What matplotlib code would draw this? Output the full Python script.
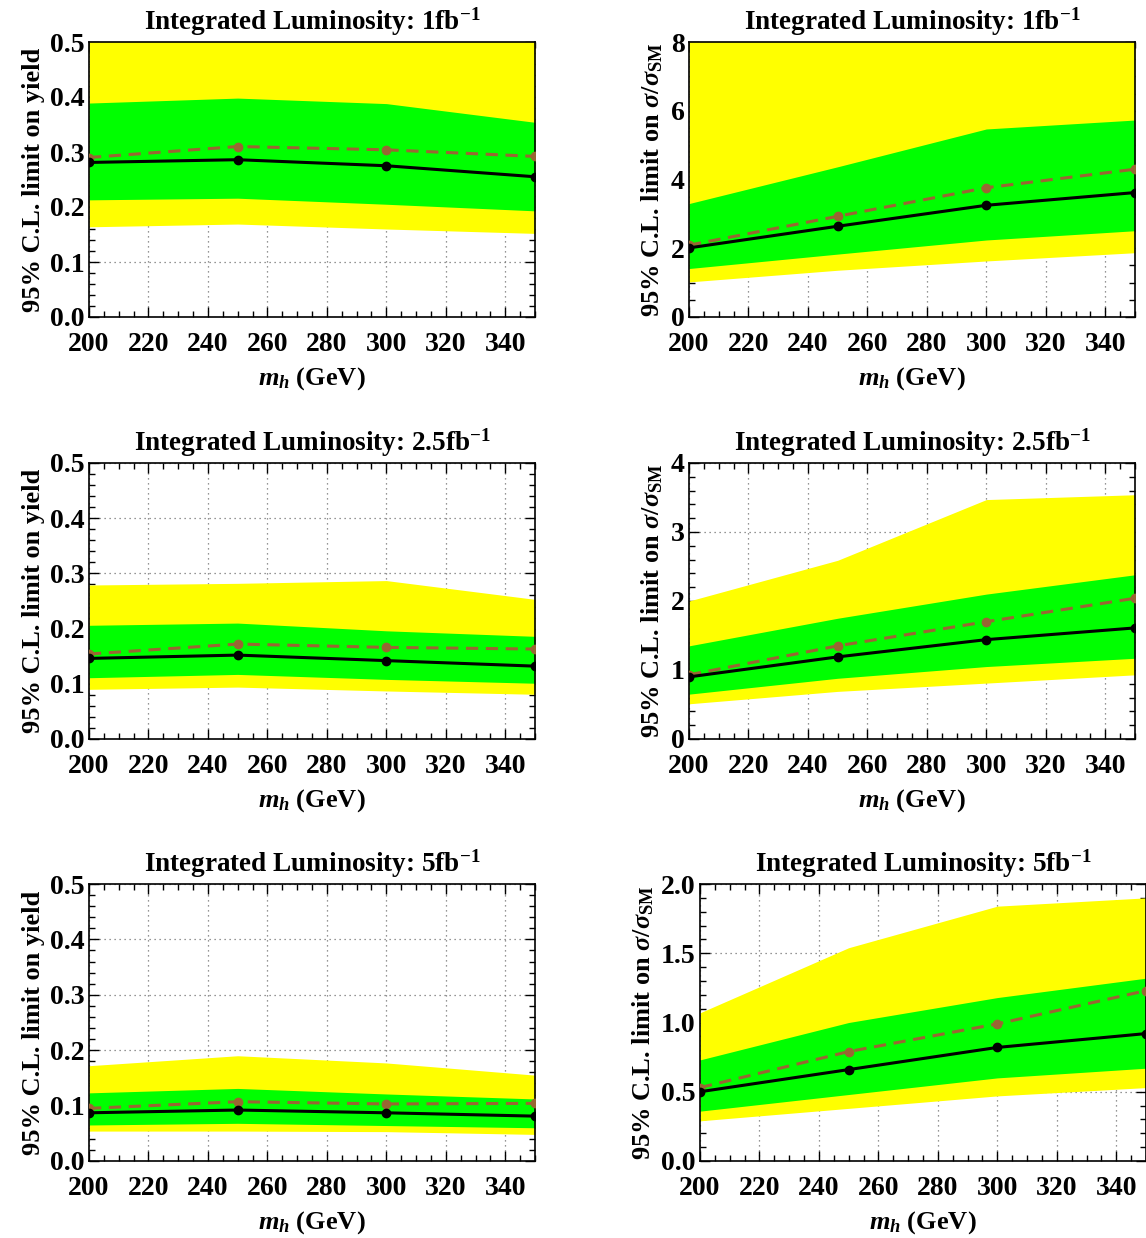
import matplotlib
matplotlib.use("Agg")
import matplotlib.pyplot as plt
from matplotlib.ticker import MultipleLocator, FormatStrFormatter

plt.rcParams['font.family'] = ['Liberation Serif', 'DejaVu Serif']
plt.rcParams['font.weight'] = 'bold'
plt.rcParams['axes.labelweight'] = 'bold'
plt.rcParams['axes.titleweight'] = 'bold'
plt.rcParams['mathtext.fontset'] = 'custom'
plt.rcParams['mathtext.rm'] = 'Liberation Serif:bold'
plt.rcParams['mathtext.bf'] = 'Liberation Serif:bold'
plt.rcParams['mathtext.it'] = 'Liberation Serif:bold:italic'

# ---------------- data ----------------
mh = [200, 250, 300, 350]
lumi_labels = ["1", "2.5", "5"]

# yield limits (left column)
yield_obs = [[0.281, 0.286, 0.275, 0.255],
             [0.146, 0.152, 0.142, 0.132],
             [0.087, 0.092, 0.087, 0.081]]
yield_exp = [[0.290, 0.310, 0.304, 0.292],
             [0.154, 0.172, 0.166, 0.163],
             [0.095, 0.107, 0.103, 0.104]]
yield_g_lo = [[0.213, 0.216, 0.205, 0.193],
              [0.111, 0.117, 0.108, 0.101],
              [0.065, 0.068, 0.064, 0.060]]
yield_g_hi = [[0.389, 0.398, 0.388, 0.354],
              [0.206, 0.210, 0.196, 0.186],
              [0.123, 0.131, 0.121, 0.112]]
yield_y_lo = [[0.164, 0.169, 0.160, 0.152],
              [0.090, 0.094, 0.087, 0.081],
              [0.054, 0.054, 0.053, 0.048]]
yield_y_hi = [[0.60, 0.62, 0.60, 0.56],
              [0.279, 0.282, 0.287, 0.253],
              [0.172, 0.190, 0.177, 0.155]]

# sigma/sigma_SM limits (right column)
sig_obs = [[2.01, 2.64, 3.25, 3.62],
           [0.90, 1.19, 1.44, 1.61],
           [0.50, 0.66, 0.82, 0.92]]
sig_exp = [[2.09, 2.93, 3.76, 4.30],
           [0.93, 1.35, 1.70, 2.04],
           [0.53, 0.79, 0.99, 1.23]]
sig_g_lo = [[1.41, 1.83, 2.24, 2.51],
            [0.65, 0.88, 1.05, 1.17],
            [0.36, 0.48, 0.60, 0.67]]
sig_g_hi = [[3.30, 4.37, 5.47, 5.73],
            [1.35, 1.75, 2.10, 2.38],
            [0.73, 1.00, 1.18, 1.32]]
sig_y_lo = [[1.02, 1.36, 1.63, 1.87],
            [0.51, 0.69, 0.81, 0.93],
            [0.29, 0.38, 0.47, 0.53]]
sig_y_hi = [[9.5, 10.0, 10.5, 11.0],
            [2.00, 2.59, 3.47, 3.54],
            [1.07, 1.54, 1.84, 1.90]]

sig_ymax = [8, 4, 2.0]
sig_major = [2, 1, 0.5]
sig_minor = [0.5, 0.2, 0.1]
sig_fmt = ['%d', '%d', '%.1f']

# ---------------- layout ----------------
W, H = 1146, 1238
fig = plt.figure(figsize=(W / 100, H / 100), dpi=100)

rows_px = [(42, 317), (463, 739), (884, 1161)]
left_x = [89, 89, 89]
right_x = [689, 689, 700]
AXW = 446

YELLOW = (1, 1, 0)
GREEN = (0, 1, 0)
BROWN = (0.6, 0.4, 0.2)
FS_TICK = 20
FS_LAB = 19
FS_TITLE = 19.5


def make_ax(x0, ytop, ybot):
    return fig.add_axes([x0 / W, 1 - ybot / H, AXW / W, (ybot - ytop) / H])


def style(ax, ymax, major, minor, fmt):
    ax.set_xlim(200, 350)
    ax.set_ylim(0, ymax)
    ax.xaxis.set_major_locator(MultipleLocator(20))
    ax.xaxis.set_minor_locator(MultipleLocator(5))
    ax.yaxis.set_major_locator(MultipleLocator(major))
    ax.yaxis.set_minor_locator(MultipleLocator(minor))
    ax.yaxis.set_major_formatter(FormatStrFormatter(fmt))
    ax.tick_params(which='both', direction='in', top=True, right=True,
                   labelsize=FS_TICK, width=1.0)
    ax.tick_params(which='major', length=7)
    ax.tick_params(which='minor', length=4)
    ax.tick_params(axis='y', pad=3)
    ax.tick_params(axis='x', pad=11)
    for s in ax.spines.values():
        s.set_linewidth(1.2)
    ax.set_axisbelow(True)
    ax.grid(True, which='major', linestyle=(0, (1, 3)), color='0.45',
            linewidth=0.9)
    ax.set_xlabel(r'$m_h$ (GeV)', fontsize=FS_LAB, labelpad=6,
                  fontweight='bold')


def draw(ax, ylo, yhi, glo, ghi, exp, obs):
    ax.fill_between(mh, ylo, yhi, color=YELLOW, linewidth=0, zorder=1)
    ax.fill_between(mh, glo, ghi, color=GREEN, linewidth=0, zorder=2)
    ax.plot(mh, exp, color=BROWN, linestyle=(0, (4, 2.5)), linewidth=2.2,
            marker='o', markersize=6, zorder=3)
    ax.plot(mh, obs, color='black', linewidth=2.2, marker='o',
            markersize=6, zorder=4)


for i, (ytop, ybot) in enumerate(rows_px):
    title = 'Integrated Luminosity: ' + r'$\mathbf{' + lumi_labels[i] + r'fb}^{-1}$'

    axl = make_ax(left_x[i], ytop, ybot)
    draw(axl, yield_y_lo[i], yield_y_hi[i], yield_g_lo[i], yield_g_hi[i],
         yield_exp[i], yield_obs[i])
    style(axl, 0.5, 0.1, 0.02, '%.1f')
    axl.set_ylabel('95% C.L. limit on yield', fontsize=FS_LAB, labelpad=4,
                   fontweight='bold')
    axl.set_title(title, fontsize=FS_TITLE, pad=9, fontweight='bold')

    axr = make_ax(right_x[i], ytop, ybot)
    draw(axr, sig_y_lo[i], sig_y_hi[i], sig_g_lo[i], sig_g_hi[i],
         sig_exp[i], sig_obs[i])
    style(axr, sig_ymax[i], sig_major[i], sig_minor[i], sig_fmt[i])
    axr.set_ylabel(r'95% C.L. limit on $\sigma/\sigma_{\rm SM}$',
                   fontsize=FS_LAB, labelpad=4, fontweight='bold')
    axr.set_title(title, fontsize=FS_TITLE, pad=9, fontweight='bold')

fig.savefig('out.png', dpi=100)
